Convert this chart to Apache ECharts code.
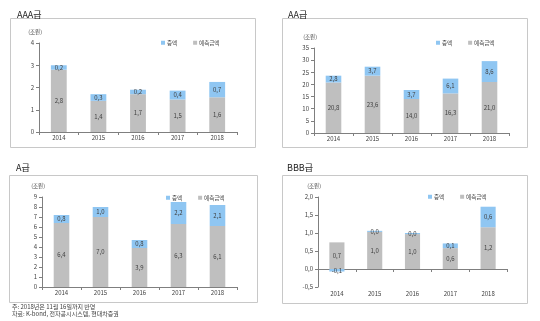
<!DOCTYPE html>
<html><head><meta charset="utf-8">
<script src="https://cdn.jsdelivr.net/npm/echarts@6/dist/echarts.min.js"></script>
<style>html,body{margin:0;padding:0;background:#fff}#c{width:540px;height:321px}</style>
</head><body><div id="c"></div>
<script>
const years = ['2014','2015','2016','2017','2018'];
const aaaBase = [2.8, 1.4, 1.7, 1.46, 1.56];
const aaaInc  = [0.2, 0.3, 0.2, 0.4, 0.69];
const aaBase  = [20.8, 23.6, 14.0, 16.3, 21.0];
const aaInc   = [2.8, 3.7, 3.7, 6.1, 8.6];
const aBase   = [6.4, 7.0, 3.9, 6.3, 6.1];
const aInc    = [0.8, 1.0, 0.8, 2.2, 2.1];
const bbbBase = [0.74, 1.03, 0.97, 0.58, 1.16];
const bbbInc  = [-0.07, 0.03, 0.03, 0.13, 0.57];
const panelTitles = ['AAA급', 'AA급', 'A급', 'BBB급'];
const nameInc = '증액', nameBase = '예측금액';
const unitLabel = '(조원)';
const notes = ['주: 2018년은 11월 16일까지 반영', '자료: K-bond, 전자공시시스템, 현대차증권'];

const FONT = '"Noto Sans CJK KR", "Noto Sans", sans-serif';
const GRAY = '#bfbfbf', BLUE = '#8fc6f2', AXIS = '#7f7f7f', TXT = '#404040';
const fmt1 = v => v.toFixed(1).replace('.', ',');

const panels = [
  {grid:{left:39, top:43, width:198, height:89}, y:{min:0,max:4,interval:1,dec:false}, base:aaaBase, inc:aaaInc, legend:{left:156, top:35}, title:{left:12, top:5}, box:[10,18,245,129]},
  {grid:{left:314, top:48, width:195, height:85}, y:{min:0,max:35,interval:5,dec:false}, base:aaBase, inc:aaInc, legend:{left:431, top:35}, title:{left:283, top:5}, box:[282,18,245,129]},
  {grid:{left:42, top:197, width:195, height:90}, y:{min:0,max:9,interval:1,dec:false}, base:aBase, inc:aInc, legend:{left:161, top:190}, title:{left:11, top:158}, box:[9,175,248,127]},
  {grid:{left:318, top:197, width:189, height:90}, y:{min:-0.5,max:2.0,interval:0.5,dec:true}, base:bbbBase, inc:bbbInc, legend:{left:423, top:189}, title:{left:282, top:158}, box:[282,175,245,128]}
];

const grid=[], xAxis=[], yAxis=[], series=[], legend=[], title=[], graphic=[];
const xIdx=[];
panels.forEach((p,i)=>{
  grid.push(p.grid);
  const isB = p.y.dec;
  xIdx.push(xAxis.length);
  xAxis.push({type:'category', gridIndex:i, data:years,
    axisLine:{lineStyle:{color:AXIS, width:1}},
    axisTick:{show:true, length:3, lineStyle:{color:AXIS}},
    axisLabel:{show:!isB, fontSize:6, color:TXT, fontFamily:FONT, margin:3}});
  yAxis.push({type:'value', gridIndex:i, min:p.y.min, max:p.y.max, interval:p.y.interval,
    name:unitLabel, nameLocation:'end', nameGap:8,
    nameTextStyle:{fontSize:5.5, color:TXT, fontFamily:FONT, align:'right', padding:[0,-3,0,0]},
    splitLine:{show:false},
    axisLine:{show:true, lineStyle:{color:AXIS}},
    axisTick:{show:true, length:3, lineStyle:{color:AXIS}},
    axisLabel:{fontSize:6, color:TXT, fontFamily:FONT, margin:5,
      formatter: v => isB ? fmt1(v) : String(v)}});
  if (isB) {
    xAxis.push({type:'category', gridIndex:i, data:years, position:'bottom',
      axisLine:{show:false, onZero:false}, axisTick:{show:false},
      axisLabel:{fontSize:6, color:TXT, fontFamily:FONT, margin:4}});
  }
  const lbl = {show:true, position:'inside', fontSize:6, color:TXT, fontFamily:FONT,
    formatter: d => fmt1(d.value)};
  series.push({name:nameBase, type:'bar', stack:'s'+i, xAxisIndex:xIdx[i], yAxisIndex:i,
    data:p.base, barWidth:'40%', itemStyle:{color:GRAY}, label:lbl});
  series.push({name:nameInc, type:'bar', stack:'s'+i, xAxisIndex:xIdx[i], yAxisIndex:i,
    data:p.inc, barWidth:'40%', itemStyle:{color:BLUE}, label:lbl});
  legend.push({left:p.legend.left, top:p.legend.top, data:[nameInc, nameBase], itemWidth:4, itemHeight:4,
    itemGap:16, icon:'rect', selectedMode:false, textStyle:{fontSize:5.5, color:TXT, fontFamily:FONT, padding:[0,0,0,-3]}});
  title.push({text:panelTitles[i], left:p.title.left, top:p.title.top,
    textStyle:{fontSize:9, fontWeight:'normal', color:'#222', fontFamily:FONT}});
  graphic.push({type:'rect', shape:{x:p.box[0]+0.5, y:p.box[1]+0.5, width:p.box[2], height:p.box[3]},
    style:{fill:'none', stroke:'#c8c8c8', lineWidth:1}, z:-1});
});
notes.forEach((t,k)=>graphic.push({type:'text', left:12, top:304+k*7,
  style:{text:t, fontSize:6, fill:TXT, fontFamily:FONT}}));

const chart = echarts.init(document.getElementById('c'), null, {renderer:'canvas'});
chart.setOption({animation:false, backgroundColor:'#fff', textStyle:{fontFamily:FONT},
  grid, xAxis, yAxis, series, legend, title, graphic});
</script></body></html>
